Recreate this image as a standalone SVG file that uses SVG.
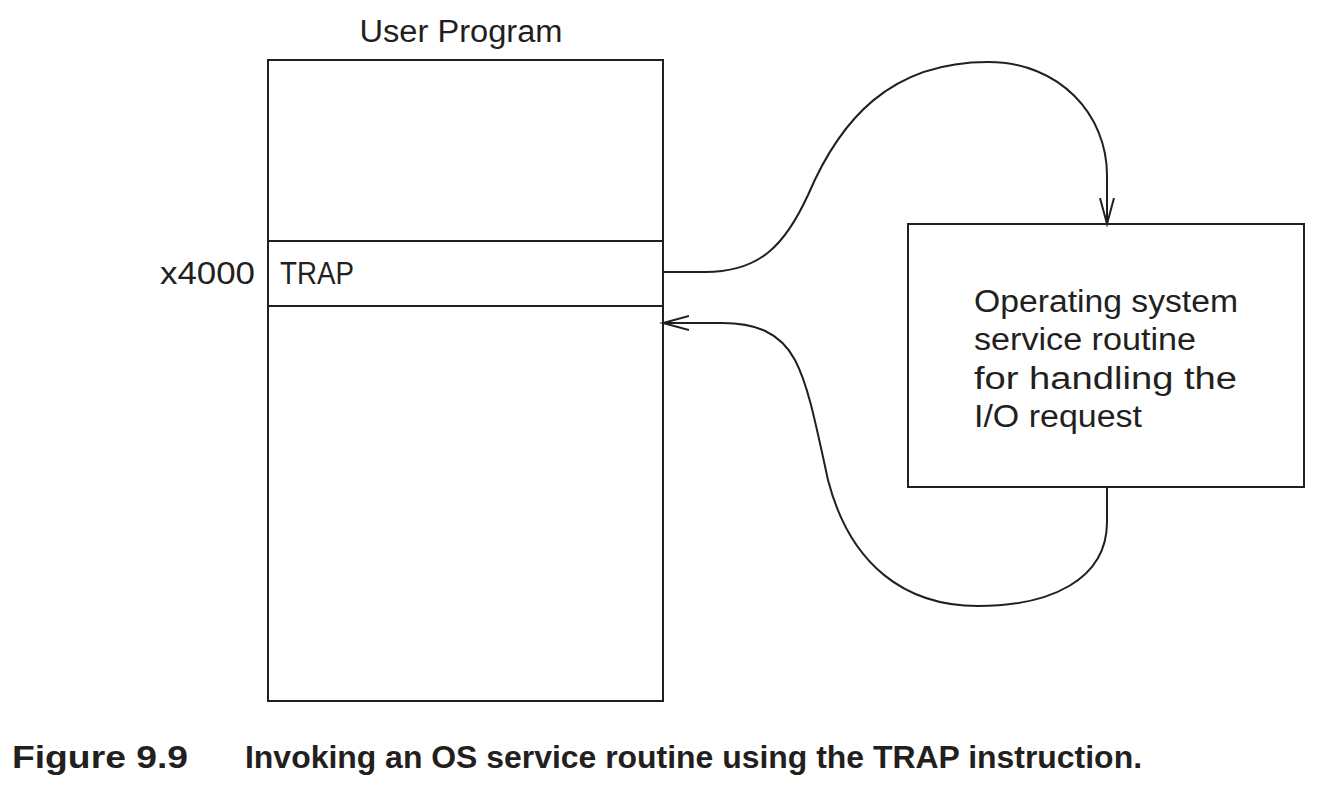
<svg xmlns="http://www.w3.org/2000/svg" width="1318" height="788" viewBox="0 0 1318 788">
<style>
.box{fill:#fff;stroke:#231f20;stroke-width:2}
.ln{stroke:#231f20;stroke-width:2;fill:none}
.t{font-family:"Liberation Sans",Arial,sans-serif;font-size:31px;fill:#231f20}
.cap{font-family:"Liberation Sans",Arial,sans-serif;font-size:31px;font-weight:bold;fill:#231f20}
</style>
<defs>
<marker id="arr" markerUnits="userSpaceOnUse" markerWidth="30" markerHeight="20" refX="26" refY="8" orient="auto">
<path d="M0,1 L26,8 L0,15" fill="none" stroke="#231f20" stroke-width="2"/>
</marker>
</defs>
<rect width="1318" height="788" fill="#fff"/>
<g id="user-program">
<text class="t" x="461" y="42" text-anchor="middle" textLength="203" lengthAdjust="spacingAndGlyphs">User Program</text>
<rect class="box" x="268" y="60" width="395" height="641"/>
<line class="ln" x1="268" y1="241" x2="663" y2="241"/>
<line class="ln" x1="268" y1="306" x2="663" y2="306"/>
<text class="t" x="255" y="284" text-anchor="end" textLength="95" lengthAdjust="spacingAndGlyphs">x4000</text>
<text class="t" x="280" y="284" textLength="74" lengthAdjust="spacingAndGlyphs">TRAP</text>
</g>
<g id="os-routine">
<rect class="box" x="908" y="224" width="396" height="263"/>
<text class="t" x="974" y="312" textLength="264" lengthAdjust="spacingAndGlyphs">Operating system</text>
<text class="t" x="974" y="350" textLength="222" lengthAdjust="spacingAndGlyphs">service routine</text>
<text class="t" x="974" y="389" textLength="263" lengthAdjust="spacingAndGlyphs">for handling the</text>
<text class="t" x="974" y="427" textLength="168" lengthAdjust="spacingAndGlyphs">I/O request</text>
</g>
<g id="connectors">
<path class="ln" marker-end="url(#arr)" d="M663,272 L705,272 C760,272 785,245 808,195 C840,120 890,62 988,62 C1060,62 1107,115 1107,175 L1107,224"/>
<path class="ln" marker-end="url(#arr)" d="M1107,487 L1107,522 C1107,580 1050,606 978,606 C905,606 850,565 828,480 C815,420 808,385 795,360 C780,332 755,323 722,323 L663,323"/>
</g>
<g id="caption">
<text class="cap" x="12" y="768" textLength="176" lengthAdjust="spacingAndGlyphs">Figure 9.9</text>
<text class="cap" x="245" y="768" textLength="897" lengthAdjust="spacingAndGlyphs">Invoking an OS service routine using the TRAP instruction.</text>
</g>
</svg>
